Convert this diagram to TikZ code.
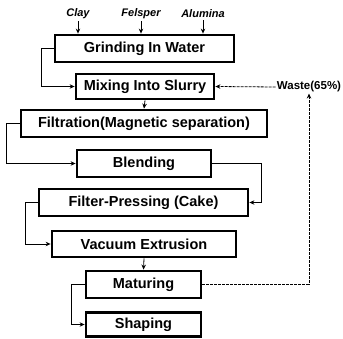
\documentclass[tikz,border=0pt]{standalone}
\usepackage{fontspec}
\setmainfont{Liberation Sans}
\usetikzlibrary{arrows.meta}
\begin{document}
\begin{tikzpicture}[x=1pt,y=-1pt,
  proc/.style={draw, line width=2.8pt, inner sep=0pt, font=\fontsize{14.5}{16}\selectfont\bfseries},
  inp/.style={inner sep=0pt, font=\fontsize{11}{12}\selectfont\bfseries\itshape},
  lbl/.style={inner sep=1pt, font=\fontsize{11.5}{12}\selectfont\bfseries},
  conn/.style={line width=0.8pt, -{Stealth[length=5pt,width=4.5pt]}},
  waste/.style={line width=0.8pt, dashed, dash pattern=on 3pt off 1pt, -{Stealth[length=5pt,width=4.5pt]}}]
\useasboundingbox (0,0) rectangle (343,339);
% process boxes
\node[proc, minimum width=179pt, minimum height=27pt] (grind) at (144.5,48.5) {Grinding In Water};
\node[proc, minimum width=138pt, minimum height=25pt] (mix) at (145,86.5) {Mixing Into Slurry};
\node[proc, minimum width=246pt, minimum height=27pt] (filt) at (144,123.5) {Filtration(Magnetic separation)};
\node[proc, minimum width=134pt, minimum height=27pt] (blend) at (144,163.5) {Blending};
\node[proc, minimum width=209pt, minimum height=27pt] (press) at (143.5,202.5) {Filter-Pressing (Cake)};
\node[proc, minimum width=184pt, minimum height=26pt] (vac) at (144,244) {Vacuum Extrusion};
\node[proc, minimum width=115pt, minimum height=27pt] (mat) at (143.5,284.5) {Maturing};
\node[proc, minimum width=115pt, minimum height=24pt] (shape) at (143.5,324.5) {Shaping};
% inputs
\node[inp] (clay) at (78,14) {Clay};
\node[inp] (fels) at (141,14) {Felsper};
\node[inp] (alum) at (203,14) {Alumina};
\node[lbl] (waste) at (309,87) {Waste(65\%)};
% input arrows
\draw[conn] (clay.south) ++(0,2) -- (clay.south |- grind.north);
\draw[conn] (fels.south) ++(0,2) -- (fels.south |- grind.north);
\draw[conn] (alum.south) ++(0,2) -- (alum.south |- grind.north);
% flow connectors
\draw[conn] (grind.west) -- ++(-12,0) |- (mix.west);
\draw[conn] (mix.south) -- (filt.north);
\draw[conn] (filt.west) -- ++(-13,0) |- (blend.west);
\draw[conn] (blend.east) -- ++(49,0) |- (press.east);
\draw[conn] (press.west) -- ++(-12,0) |- (vac.west);
\draw[conn] (vac.south) -- (mat.north);
\draw[conn] (mat.west) -- ++(-13,0) |- (shape.west);
% waste recycle
\draw[waste] (mat.east) -| (waste.south);
\draw[waste] (waste.west) -- (mix.east);
\end{tikzpicture}
\end{document}
